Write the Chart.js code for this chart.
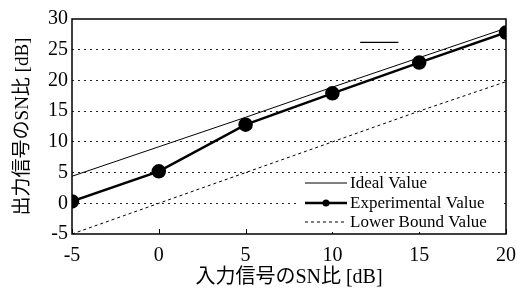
<!DOCTYPE html>
<html>
<head>
<meta charset="utf-8">
<script src="https://cdn.jsdelivr.net/npm/chart.js@4/dist/chart.umd.min.js"></script>
<style>
  html, body { margin: 0; padding: 0; background: #fff; }
  #wrap { width: 517px; height: 290px; position: relative; }
</style>
</head>
<body>
<div id="wrap"><canvas id="snChart"></canvas></div>
<script>
// values
const inputSN = [-5, 0, 5, 10, 15, 20];
const idealValue = [4.4, 9.2, 14.0, 18.9, 23.7, 28.5];
const experimentalValue = [0.3, 5.2, 12.8, 17.9, 22.9, 27.8];
const lowerBoundValue = [-5, 0, 5, 10, 15, 19.8];
const strayMarkX = [11.6, 13.8];
const strayMarkY = [26.2, 26.2];
const xTicks = [-5, 0, 5, 10, 15, 20];
const yTicks = [-5, 0, 5, 10, 15, 20, 25, 30];

const serif = '"Liberation Serif", "Noto Sans CJK JP", serif';

function pairs(xs, ys) {
  return xs.map((x, i) => ({ x: x, y: ys[i] }));
}

// legend drawn inside the plot, bottom right
const insideLegend = {
  id: 'insideLegend',
  afterDatasetsDraw(chart) {
    const ctx = chart.ctx;
    const items = chart.data.datasets.filter(d => d.label);
    const x0 = 305, x1 = 347, tx = 350;
    const rows = [183, 203, 222];
    ctx.save();
    ctx.fillStyle = '#fff';
    ctx.fillRect(298, 173, 205, 59);
    ctx.font = '17px ' + serif;
    ctx.textBaseline = 'middle';
    items.forEach((d, i) => {
      const y = rows[i];
      ctx.strokeStyle = '#000';
      ctx.lineWidth = d.borderWidth;
      ctx.setLineDash(d.borderDash || []);
      ctx.beginPath();
      ctx.moveTo(x0, y);
      ctx.lineTo(x1, y);
      ctx.stroke();
      ctx.setLineDash([]);
      if (d.pointRadius > 0) {
        ctx.fillStyle = '#000';
        ctx.beginPath();
        ctx.arc((x0 + x1) / 2, y, 3.5, 0, Math.PI * 2);
        ctx.fill();
      }
      ctx.fillStyle = '#000';
      ctx.fillText(d.label, tx, y + 1);
    });
    ctx.restore();
  }
};

// full box around plot area, with small upward ticks on the bottom edge
const plotBox = {
  id: 'plotBox',
  beforeDatasetsDraw(chart) {
    const a = chart.chartArea;
    const ctx = chart.ctx;
    const xs = chart.scales.x;
    ctx.save();
    ctx.strokeStyle = '#000';
    ctx.lineWidth = 1.5;
    ctx.strokeRect(a.left, a.top, a.right - a.left, a.bottom - a.top);
    ctx.lineWidth = 1;
    xTicks.forEach(v => {
      const px = Math.round(xs.getPixelForValue(v)) + 0.5;
      ctx.beginPath();
      ctx.moveTo(px, a.bottom);
      ctx.lineTo(px, a.bottom - 5);
      ctx.stroke();
    });
    ctx.restore();
  }
};

const ctx = document.getElementById('snChart').getContext('2d');
new Chart(ctx, {
  type: 'line',
  data: {
    datasets: [{
      label: 'Ideal Value',
      data: pairs(inputSN, idealValue),
      borderColor: '#000',
      borderWidth: 1,
      pointRadius: 0,
      fill: false
    }, {
      label: 'Experimental Value',
      data: pairs(inputSN, experimentalValue),
      borderColor: '#000',
      backgroundColor: '#000',
      borderWidth: 2.5,
      pointRadius: 6,
      pointBackgroundColor: '#000',
      fill: false
    }, {
      label: 'Lower Bound Value',
      data: pairs(inputSN, lowerBoundValue),
      borderColor: '#000',
      borderWidth: 1,
      borderDash: [3, 3],
      pointRadius: 0,
      fill: false
    }, {
      label: '',
      data: pairs(strayMarkX, strayMarkY),
      borderColor: '#000',
      borderWidth: 1.2,
      pointRadius: 0,
      fill: false
    }]
  },
  options: {
    responsive: true,
    maintainAspectRatio: false,
    animation: false,
    layout: { padding: { left: 12, right: 11, top: 19, bottom: 0 } },
    plugins: {
      legend: { display: false },
      tooltip: { enabled: false }
    },
    scales: {
      x: {
        type: 'linear',
        min: -5,
        max: 20,
        afterBuildTicks: axis => { axis.ticks = xTicks.map(v => ({ value: v })); },
        afterFit: axis => { axis.height = 56; axis.paddingLeft = 0; axis.paddingRight = 0; },
        border: { display: false },
        grid: { display: false },
        ticks: {
          color: '#000',
          font: { family: serif, size: 20 },
          padding: 2
        },
        title: {
          display: true,
          text: '入力信号のSN比 [dB]',
          color: '#000',
          font: { family: serif, size: 20 },
          padding: { top: -2, bottom: 0 }
        }
      },
      y: {
        type: 'linear',
        min: -5,
        max: 30,
        afterBuildTicks: axis => { axis.ticks = yTicks.map(v => ({ value: v })); },
        afterFit: axis => { axis.width = 60; axis.paddingTop = 0; axis.paddingBottom = 0; },
        border: { display: false, dash: [2, 4] },
        grid: {
          color: ctx => (ctx.tick.value === -5 || ctx.tick.value === 30) ? 'rgba(0,0,0,0)' : '#222',
          lineWidth: 1,
          drawTicks: false
        },
        ticks: {
          color: '#000',
          font: { family: serif, size: 20 },
          padding: 4
        },
        title: {
          display: true,
          text: '出力信号のSN比 [dB]',
          color: '#000',
          font: { family: serif, size: 19 },
          padding: { top: 0, bottom: 2 }
        }
      }
    }
  },
  plugins: [plotBox, insideLegend]
});
</script>
</body>
</html>
